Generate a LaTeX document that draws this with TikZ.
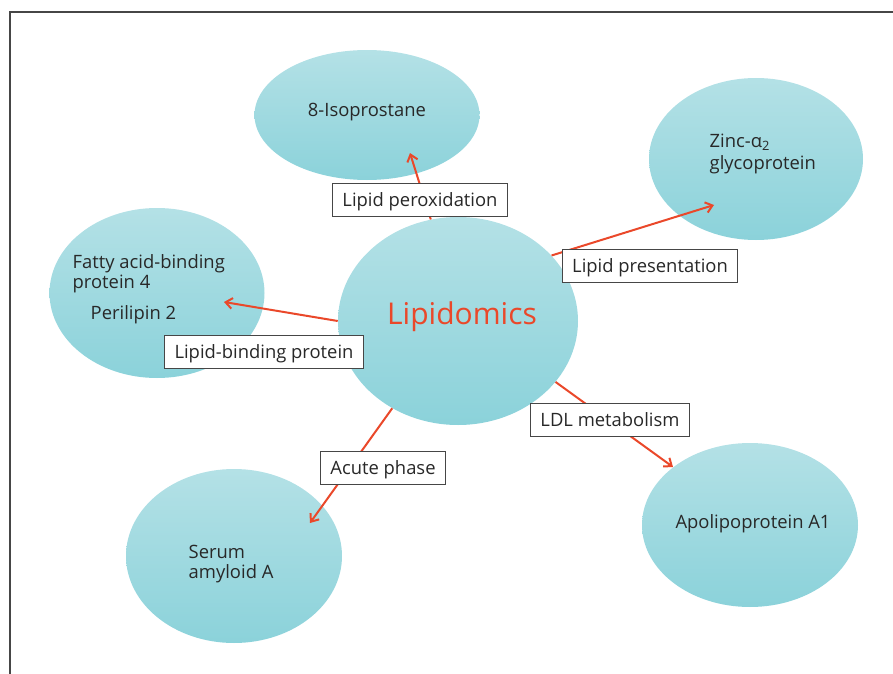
\documentclass[tikz,border=0pt]{standalone}
\usepackage{fontspec}
\setmainfont{Open Sans}
\usetikzlibrary{arrows.meta,shapes.geometric}
\definecolor{bubbletop}{RGB}{180,225,230}
\definecolor{bubblebottom}{RGB}{139,210,218}
\definecolor{linkred}{RGB}{234,72,42}
\definecolor{textgrey}{RGB}{40,40,40}
\definecolor{framegrey}{RGB}{70,70,70}

\begin{document}
\begin{tikzpicture}[
  x=0.75pt,y=-0.75pt,
  font=\fontsize{13.8}{15}\selectfont,
  every node/.style={text=textgrey},
  bubble/.style={ellipse,inner sep=0pt,draw=none,
                 top color=bubbletop,bottom color=bubblebottom},
  tag/.style={rectangle,draw=framegrey,fill=white,line width=0.6pt,
              inner xsep=7.5pt,minimum height=25pt,text depth=1pt},
  link/.style={-{Straight Barb[length=5pt,width=8pt]},line width=1.5pt,linkred}
]
\useasboundingbox (0,0) rectangle (893,674);

% frame
\draw[framegrey,line width=1pt] (10,674) -- (10,12) -- (893,12);

% --- Bubbles ---
\node[bubble,minimum width=240*0.75pt,minimum height=208*0.75pt] (lip) at (458,321) {};
\node[bubble,minimum width=225*0.75pt,minimum height=130*0.75pt] (iso) at (367,115) {};
\node[bubble,minimum width=214*0.75pt,minimum height=162*0.75pt] (zinc) at (756,159) {};
\node[bubble,minimum width=215*0.75pt,minimum height=170*0.75pt] (fabp) at (157,293) {};
\node[bubble,minimum width=216*0.75pt,minimum height=174*0.75pt] (saa) at (234,556) {};
\node[bubble,minimum width=216*0.75pt,minimum height=164*0.75pt] (apo) at (750,525) {};

% --- Bubble texts ---
\node[text=linkred,font=\fontsize{22.5}{26}\selectfont] (liptxt) at (462,317) {Lipidomics};
\node (isotxt) at (367,112) {8-Isoprostane};
\node[anchor=west,align=left,font=\fontsize{13.8}{16.5}\selectfont] (zinctxt) at (705,154) {Zinc-α\textsubscript{2}\\glycoprotein};
\node[anchor=west,align=left] (fabptxt) at (68,274) {Fatty acid-binding\\protein 4};
\node[anchor=west] (plintxt) at (86,315) {Perilipin 2};
\node[anchor=west,align=left] (saatxt) at (184,564) {Serum\\amyloid A};
\node (apotxt) at (753,524) {Apolipoprotein A1};

% --- Arrow tips ---
\coordinate (isotip) at (410,153);
\coordinate (zinctip) at (714,205);
\coordinate (fabptip) at (224,302);
\coordinate (saatip) at (310,523);
\coordinate (apotip) at (673,467);

% --- Arrows ---
\draw[link] (lip.105) -- (isotip);
\draw[link] (lip.35) -- (zinctip);
\draw[link] (lip.180) -- (fabptip);
\draw[link] (lip.233) -- (saatip);
\draw[link] (lip.328) -- (apotip);

% --- Labels ---
\node[tag] (perox) at (420,200) {Lipid peroxidation};
\node[tag] (present) at (650,266) {Lipid presentation};
\node[tag] (binding) at (264,352) {Lipid-binding protein};
\node[tag] (acute) at (383,468) {Acute phase};
\node[tag] (ldl) at (610,420) {LDL metabolism};
\end{tikzpicture}
\end{document}
